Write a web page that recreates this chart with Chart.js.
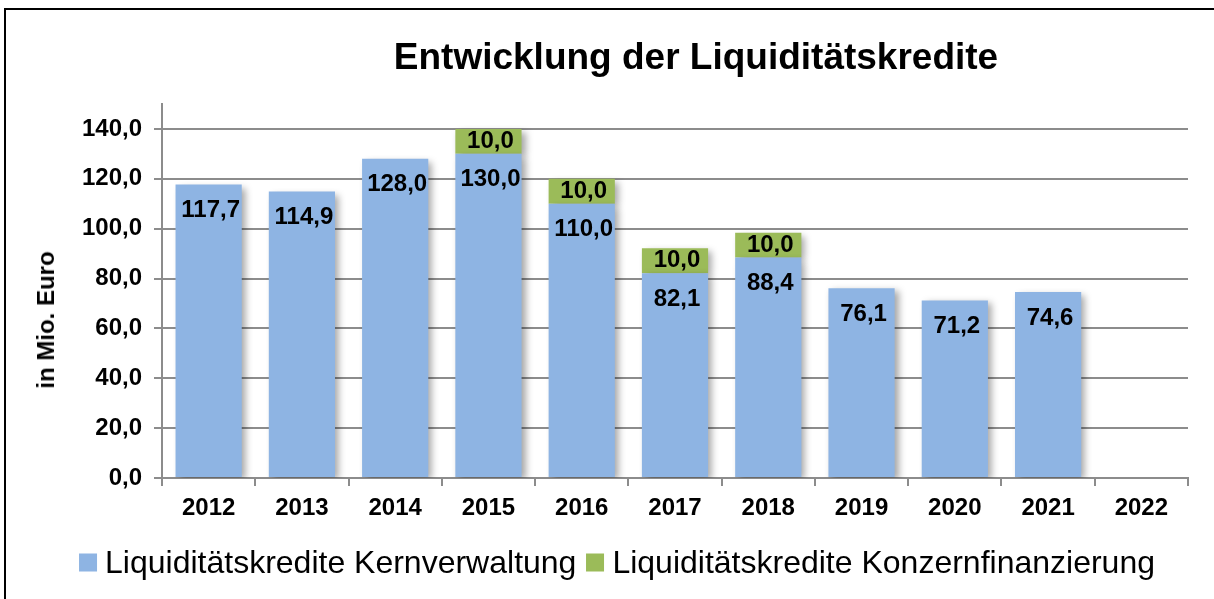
<!DOCTYPE html>
<html>
<head>
<meta charset="utf-8">
<script src="https://cdn.jsdelivr.net/npm/chart.js@4"></script>
<style>
  html, body { margin:0; padding:0; background:#fff; }
  body { width:1214px; height:599px; position:relative; overflow:hidden; font-family:"Liberation Sans", Arial, sans-serif; }
  #frame { position:absolute; left:4px; top:8px; width:1300px; height:700px; border-left:2px solid #000; border-top:2px solid #000; }
  #c { position:absolute; left:0; top:0; }
  #title { position:absolute; left:696px; top:57px; transform:translate(-50%,-50%); white-space:nowrap; font-weight:bold; font-size:37px; color:#000; }
  #ytitle { position:absolute; left:46px; top:320px; transform:translate(-50%,-50%) rotate(-90deg); white-space:nowrap; font-weight:bold; font-size:24px; color:#000; }
  #legend { position:absolute; left:617px; top:562px; transform:translate(-50%,-50%); display:flex; align-items:center; white-space:nowrap; font-size:32px; color:#000; }
  .item { display:flex; align-items:center; margin:0 5px; }
  .sw { width:18px; height:18px; margin-right:8px; }
</style>
</head>
<body>
<div id="frame"></div>
<canvas id="c" width="1214" height="599"></canvas>
<div id="title"></div>
<div id="ytitle"></div>
<div id="legend"></div>
<script>
const chartTitle = "Entwicklung der Liquiditätskredite";
const yAxisTitle = "in Mio. Euro";
const years = ["2012","2013","2014","2015","2016","2017","2018","2019","2020","2021","2022"];
const seriesNames = ["Liquiditätskredite Kernverwaltung", "Liquiditätskredite Konzernfinanzierung"];
const kernverwaltung = [117.7, 114.9, 128.0, 130.0, 110.0, 82.1, 88.4, 76.1, 71.2, 74.6, null];
const konzernfinanzierung = [null, null, null, 10.0, 10.0, 10.0, 10.0, null, null, null, null];
const yTickValues = [0, 20, 40, 60, 80, 100, 120, 140];
const yMax = 150;
const colors = ["#8EB4E3", "#9BBB59"];

document.getElementById('title').textContent = chartTitle;
document.getElementById('ytitle').textContent = yAxisTitle;
const leg = document.getElementById('legend');
seriesNames.forEach((n, i) => {
  const it = document.createElement('div'); it.className = 'item';
  const sw = document.createElement('div'); sw.className = 'sw'; sw.style.background = colors[i];
  const tx = document.createElement('span'); tx.textContent = n;
  it.appendChild(sw); it.appendChild(tx); leg.appendChild(it);
});

const fmt = v => Number(v).toFixed(1).replace('.', ',');
const gridColor = '#8c8c8c';
const FONT = '"Liberation Sans", Arial, sans-serif';

const fxPlugin = {
  id: 'fx',
  beforeDatasetsDraw(chart) {
    const ctx = chart.ctx;
    ctx.save();
    ctx.shadowColor = 'rgba(0,0,0,0.35)';
    ctx.shadowBlur = 7;
    ctx.shadowOffsetX = 4;
    ctx.shadowOffsetY = 3;
  },
  afterDatasetsDraw(chart) {
    const ctx = chart.ctx;
    ctx.restore();
    ctx.save();
    ctx.font = 'bold 24px ' + FONT;
    ctx.fillStyle = '#000';
    ctx.textAlign = 'center';
    ctx.textBaseline = 'middle';
    chart.data.datasets.forEach((ds, di) => {
      const meta = chart.getDatasetMeta(di);
      meta.data.forEach((bar, i) => {
        const v = ds.data[i];
        if (v === null || v === undefined) return;
        const top = Math.min(bar.y, bar.base);
        const bottom = Math.max(bar.y, bar.base);
        const y = di === 0 ? top + 26 : (top + bottom) / 2;
        ctx.fillText(fmt(v), bar.x + 2, y);
      });
    });
    ctx.restore();
  }
};

new Chart(document.getElementById('c'), {
  type: 'bar',
  data: {
    labels: years,
    datasets: [
      { label: seriesNames[0], data: kernverwaltung, backgroundColor: colors[0], stack: 's', barPercentage: 0.71, categoryPercentage: 1 },
      { label: seriesNames[1], data: konzernfinanzierung, backgroundColor: colors[1], stack: 's', barPercentage: 0.71, categoryPercentage: 1 }
    ]
  },
  options: {
    responsive: false,
    animation: false,
    layout: { padding: { top: 104, right: 26, left: 0, bottom: 0 } },
    plugins: { legend: { display: false }, title: { display: false }, tooltip: { enabled: false } },
    scales: {
      x: {
        stacked: true,
        grid: { display: true, drawOnChartArea: false, drawTicks: true, tickLength: 8, color: gridColor, lineWidth: 2 },
        border: { color: gridColor, width: 2 },
        ticks: { color: '#000', font: { family: FONT, weight: 'bold', size: 24 }, padding: 8, maxRotation: 0 },
        afterFit: s => { s.height = 121; }
      },
      y: {
        stacked: true,
        min: 0,
        max: yMax,
        afterBuildTicks: s => { s.ticks = yTickValues.map(v => ({ value: v })); },
        grid: { color: gridColor, lineWidth: 2, tickLength: 8 },
        border: { color: gridColor, width: 2 },
        ticks: { color: '#000', font: { family: FONT, weight: 'bold', size: 24 }, padding: 12, callback: v => fmt(v) },
        afterFit: s => { s.width = 162; }
      }
    }
  },
  plugins: [fxPlugin]
});
</script>
</body>
</html>
